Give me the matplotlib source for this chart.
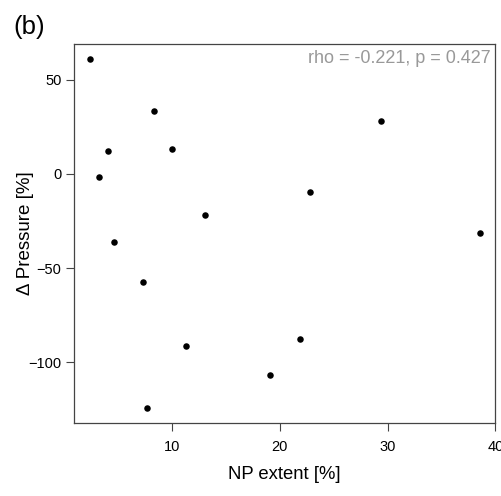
import matplotlib
matplotlib.use("Agg")
import matplotlib.pyplot as plt

# data
np_extent = [2.42, 8.36, 4.06, 10.0, 3.26, 13.1, 4.65, 7.31, 11.35, 7.71,
             22.8, 21.9, 19.1, 29.4, 38.6]
d_pressure = [61.0, 33.6, 12.0, 13.1, -1.8, -21.6, -36.1, -57.2, -91.5, -124.4,
              -9.6, -87.6, -106.9, 28.3, -31.2]
x_ticks = [10, 20, 30, 40]
y_ticks = [-100, -50, 0, 50]
stat_label = "rho = -0.221, p = 0.427"

plt.rcParams['font.family'] = ['Liberation Sans', 'DejaVu Sans']

fig = plt.figure(figsize=(5.01, 4.96), dpi=100, facecolor='white')
ax = fig.add_axes([0.1477, 0.1472, 0.8413, 0.7641])

ax.scatter(np_extent, d_pressure, s=22, color='black', linewidths=0, zorder=3)

ax.set_xlim(0.94, 40.0)
ax.set_ylim(-132.4, 69.1)
ax.set_xticks(x_ticks)
ax.set_yticks(y_ticks)
ax.set_xticklabels([str(t) for t in x_ticks])
ax.set_yticklabels([str(t).replace('-', '\u2212') for t in y_ticks])

for sp in ax.spines.values():
    sp.set_color('#444444')
    sp.set_linewidth(0.9)
ax.tick_params(axis='both', direction='out', length=6, width=0.8,
               colors='#444444', labelcolor='black', labelsize=10.5, pad=3)
ax.tick_params(axis='x', pad=6)

ax.set_xlabel('NP extent [%]', fontsize=13.3, labelpad=9)
ax.set_ylabel('\u0394 Pressure [%]', fontsize=13.5, labelpad=-4)

ax.text(0.988, 0.985, stat_label, transform=ax.transAxes, ha='right', va='top',
        color='#999999', fontsize=13)

fig.text(0.026, 0.922, '(b)', fontsize=18.5, ha='left', va='bottom')

fig.savefig('out.png', dpi=100)
